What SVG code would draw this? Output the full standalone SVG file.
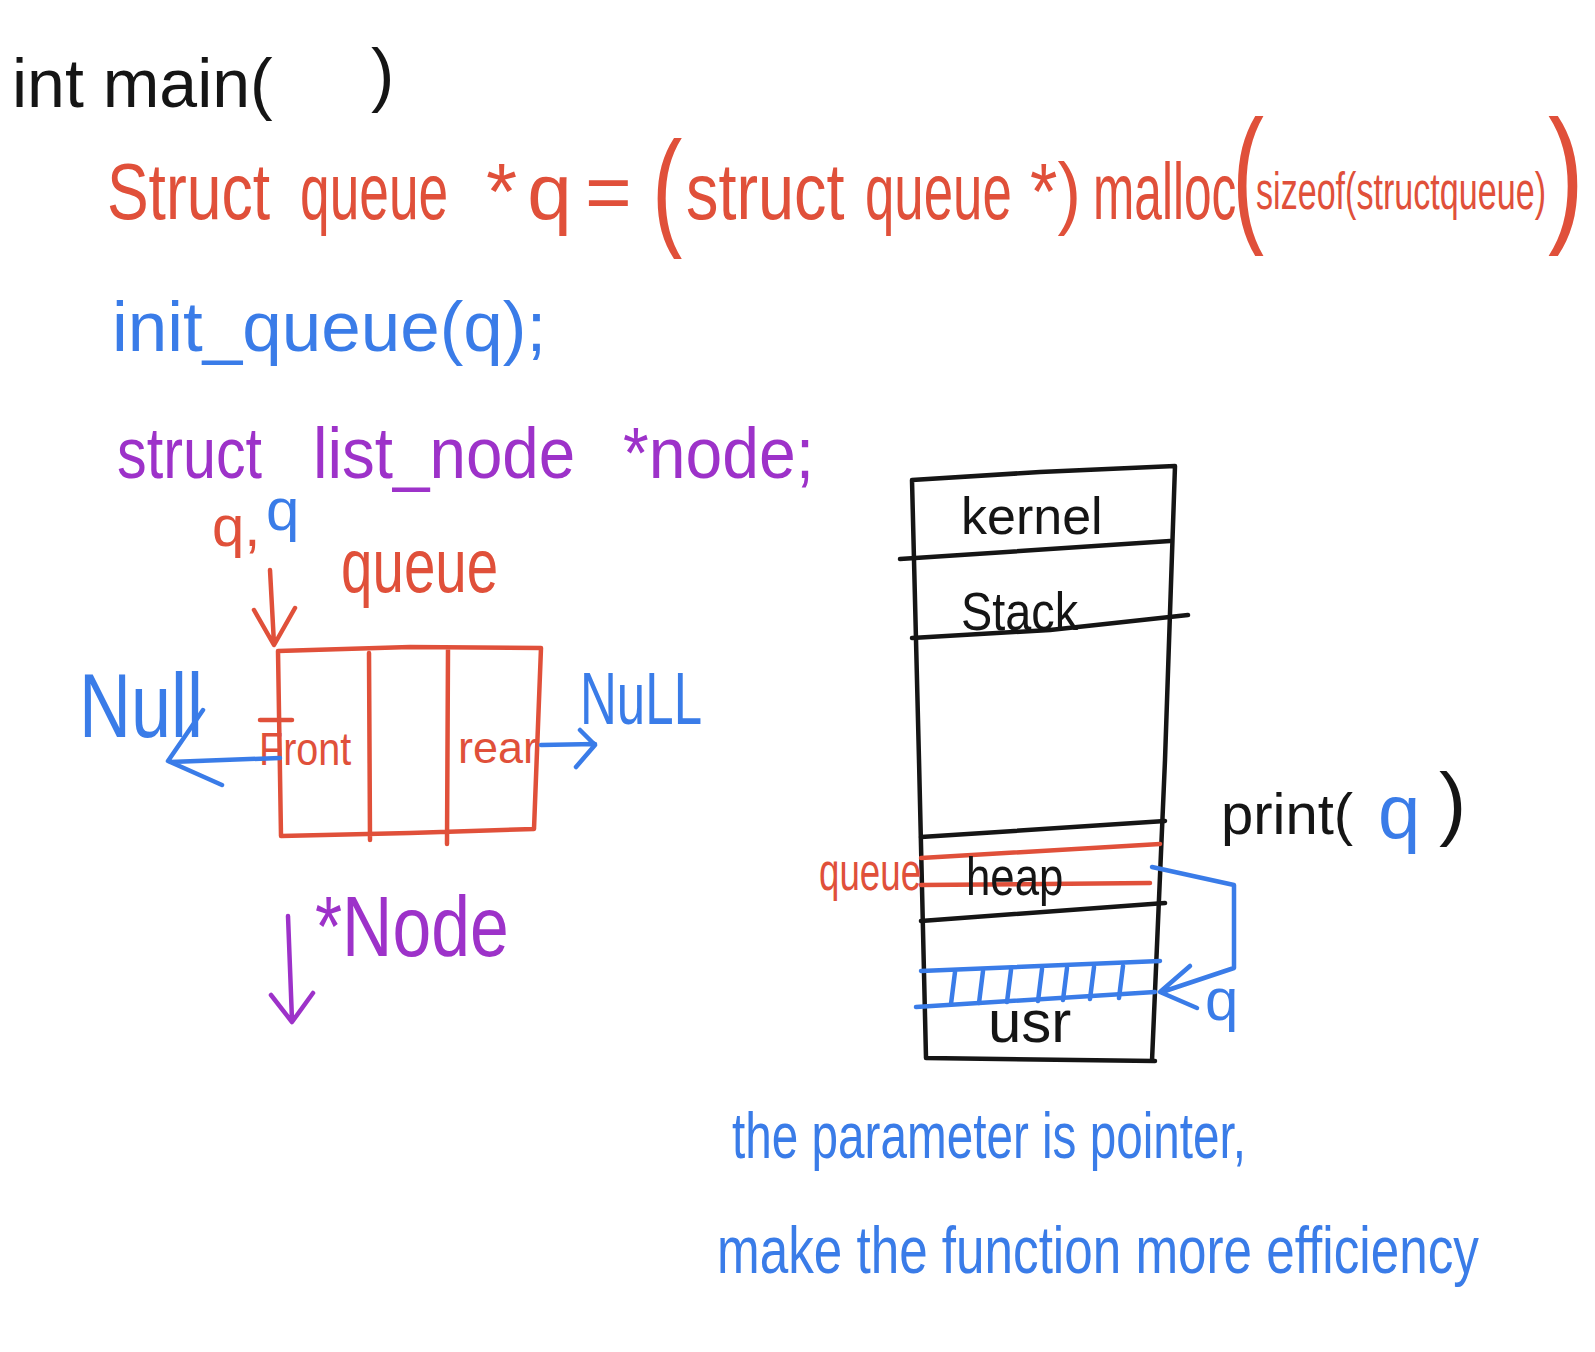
<svg xmlns="http://www.w3.org/2000/svg" width="1595" height="1352" viewBox="0 0 1595 1352">
<style>
text{font-family:"Liberation Sans",Arial,sans-serif;}
.k{fill:#151515}.r{fill:#e0503a}.b{fill:#3a7ce8}.p{fill:#9d32c9}
.sk{fill:none;stroke:#151515;stroke-width:4.5;stroke-linecap:round;stroke-linejoin:round}
.sr{fill:none;stroke:#e0503a;stroke-width:4.5;stroke-linecap:round;stroke-linejoin:round}
.sb{fill:none;stroke:#3a7ce8;stroke-width:4.5;stroke-linecap:round;stroke-linejoin:round}
.sp{fill:none;stroke:#9d32c9;stroke-width:4.5;stroke-linecap:round;stroke-linejoin:round}
</style>
<rect width="1595" height="1352" fill="#fff"/>

<g id="code">
  <text class="k" x="12" y="107" font-size="68">int main(</text>
  <text class="k" x="371" y="98" font-size="70">)</text>

  <text class="r" transform="translate(107,219) scale(0.78,1)" font-size="80">Struct</text>
  <text class="r" transform="translate(300,219) scale(0.666,1)" font-size="80">queue</text>
  <text class="r" x="486" y="219" font-size="80" letter-spacing="10">*q</text>
  <text class="r" x="585" y="219" font-size="80">=</text>
  <text class="r" transform="translate(652,232) scale(0.7,1)" font-size="130">(</text>
  <text class="r" transform="translate(686,219) scale(0.81,1)" font-size="80">struct</text>
  <text class="r" transform="translate(865,219) scale(0.66,1)" font-size="80">queue</text>
  <text class="r" transform="translate(1030,219) scale(0.88,1)" font-size="80">*)</text>
  <text class="r" transform="translate(1093,219) scale(0.62,1)" font-size="80">malloc</text>
  <text class="r" transform="translate(1232,225) scale(0.64,1)" font-size="150">(</text>
  <text class="r" transform="translate(1256,209) scale(0.656,1)" font-size="52">sizeof(structqueue)</text>
  <text class="r" transform="translate(1548,225) scale(0.72,1)" font-size="150">)</text>

  <text class="b" x="112" y="351" font-size="71">init_queue(q);</text>

  <text class="p" transform="translate(117,478) scale(0.824,1)" font-size="72">struct</text>
  <text class="p" transform="translate(313,478) scale(0.91,1)" font-size="72">list_node</text>
  <text class="p" transform="translate(623,478) scale(0.918,1)" font-size="72">*node;</text>
</g>

<g id="queue-node">
  <text class="r" x="212" y="546" font-size="58">q,</text>
  <text class="b" x="266" y="530" font-size="60">q</text>
  <text class="r" transform="translate(341,592) scale(0.744,1)" font-size="76">queue</text>
  <path class="sr" d="M278,651 L410,647 L541,648 M278,651 L281,836 M541,648 L534,829 M281,836 L410,833 L534,829 M369,653 L370,840 M448,650 L447,844"/>
  <path class="sr" d="M260,720 L292,720"/>
  <text class="r" transform="translate(259,765) scale(0.86,1)" font-size="46">Front</text>
  <text class="r" x="458" y="763" font-size="45">rear</text>
  <text class="b" transform="translate(79,737) scale(0.8,1)" font-size="90">Null</text>
  <text class="b" transform="translate(580,724) scale(0.69,1)" font-size="74">NuLL</text>
  <text class="p" transform="translate(315,956) scale(0.82,1)" font-size="85">*Node</text>
</g>

<g id="memory">
  <path class="sk" d="M912,480 L1040,472 L1175,466 M912,480 L919,760 L926,1058 M1175,466 L1165,760 L1152,1061 M926,1058 L1155,1061"/>
  <path class="sk" d="M900,559 L1170,541 M912,638 L1050,630 L1188,615 M921,837 L1165,821 M921,921 L1165,903"/>
  <path class="sr" d="M921,858 L1160,844 M921,885 L1150,883"/>
  <path class="sb" d="M921,971 L1160,961 M916,1007 L1155,992"/>
  <path class="sb" d="M955,972 L951,1004 M983,971 L979,1003 M1011,970 L1007,1002 M1042,969 L1038,1001 M1067,968 L1063,1000 M1094,967 L1090,999 M1123,966 L1119,998"/>
  <text class="k" x="961" y="534" font-size="52">kernel</text>
  <text class="k" transform="translate(961,630) scale(0.867,1)" font-size="54">Stack</text>
  <text class="k" transform="translate(966,895) scale(0.81,1)" font-size="54">heap</text>
  <text class="k" x="988" y="1042" font-size="60">usr</text>
  <text class="r" transform="translate(819,890) scale(0.68,1)" font-size="54">queue</text>
  <text class="b" x="1205" y="1020" font-size="60">q</text>
  <text class="k" x="1221" y="834" font-size="58">print(</text>
  <text class="b" x="1378" y="838" font-size="76">q</text>
  <text class="k" x="1439" y="830" font-size="82">)</text>
</g>

<g id="note">
  <text class="b" transform="translate(732,1158) scale(0.745,1)" font-size="64">the parameter is pointer,</text>
  <text class="b" transform="translate(717,1273) scale(0.776,1)" font-size="66">make the function more efficiency</text>
</g>

<g id="connectors">
  <path class="sr" d="M270,570 L274,644 M254,610 L274,645 L295,608"/>
  <path class="sb" d="M280,758 L170,762 M203,710 L168,761 L222,785"/>
  <path class="sb" d="M541,745 L595,744 M580,730 L595,745 L576,767"/>
  <path class="sp" d="M288,916 L292,1020 M271,995 L292,1022 L313,993"/>
  <path class="sb" d="M1152,867 L1234,885 L1234,968 L1162,992 M1190,966 L1160,992 L1197,1008"/>
</g>
</svg>
